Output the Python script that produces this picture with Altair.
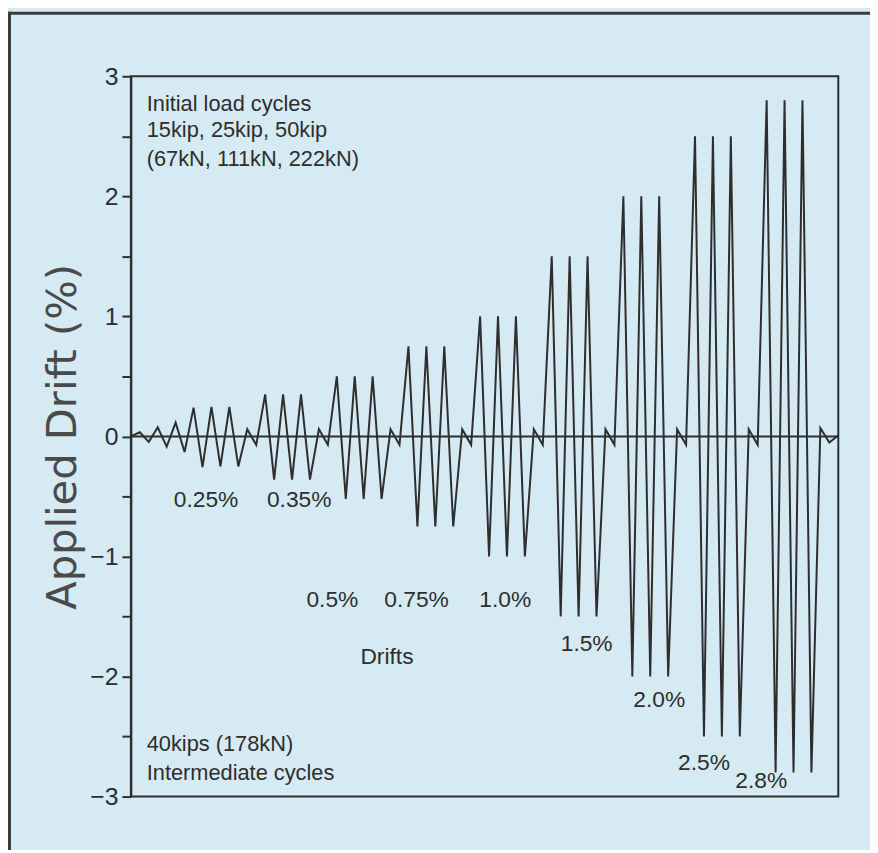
import altair as alt
import pandas as pd

# ---- data ----
step_index = list(range(80))
drift = [0, 0.035, -0.045, 0.075, -0.085, 0.115, -0.13,
         0.24, -0.255, 0.245, -0.25, 0.245, -0.25, 0.06, -0.07,
         0.35, -0.36, 0.35, -0.36, 0.35, -0.36, 0.06, -0.07,
         0.5, -0.52, 0.5, -0.52, 0.5, -0.52, 0.06, -0.07,
         0.75, -0.75, 0.75, -0.75, 0.75, -0.75, 0.06, -0.07,
         1.0, -1.0, 1.0, -1.0, 1.0, -1.0, 0.06, -0.07,
         1.5, -1.5, 1.5, -1.5, 1.5, -1.5, 0.06, -0.07,
         2.0, -2.0, 2.0, -2.0, 2.0, -2.0, 0.06, -0.07,
         2.5, -2.5, 2.5, -2.5, 2.5, -2.5, 0.06, -0.07,
         2.8, -2.8, 2.8, -2.8, 2.8, -2.8, 0.07, -0.05, 0.01]

drift_labels = ["0.25%", "0.35%", "0.5%", "0.75%", "1.0%", "1.5%", "2.0%", "2.5%", "2.8%", "Drifts"]
drift_label_x = [8.4, 18.8, 22.5, 31.9, 41.8, 50.9, 59.0, 64.0, 70.4, 28.6]
drift_label_y = [-0.534, -0.534, -1.36, -1.36, -1.36, -1.733, -2.195, -2.723, -2.871, -1.84]

note_lines = ["Initial load cycles", "15kip, 25kip, 50kip", "(67kN, 111kN, 222kN)",
              "40kips (178kN)", "Intermediate cycles"]
note_x = [1.77, 1.77, 1.77, 1.77, 1.77]
note_y = [2.767, 2.55, 2.31, -2.566, -2.805]

y_ticks = [-3, -2.5, -2, -1.5, -1, -0.5, 0, 0.5, 1, 1.5, 2, 2.5, 3]

INK = "#2e2e2e"
BG = "#d5eaf3"

df = pd.DataFrame({"k": step_index, "drift": drift})
lab = pd.DataFrame({"t": drift_labels, "x": drift_label_x, "y": drift_label_y})
notes = pd.DataFrame({"t": note_lines, "x": note_x, "y": note_y})
one = pd.DataFrame({"a": [0]})

xscale = alt.Scale(domain=[0, 79], nice=False, zero=False)
yscale = alt.Scale(domain=[-3, 3], nice=False)

line = alt.Chart(df).mark_line(color=INK, strokeWidth=2).encode(
    x=alt.X("k:Q", scale=xscale, axis=None),
    y=alt.Y("drift:Q", scale=yscale,
            axis=alt.Axis(values=y_ticks, title="Applied Drift (%)",
                          labelExpr="datum.value % 1 == 0 ? format(datum.value, 'd') : ''",
                          grid=False)),
)

zero = alt.Chart(one).mark_rule(color=INK, strokeWidth=2).encode(
    y=alt.Y("a:Q", scale=yscale)
)

drift_text = alt.Chart(lab).mark_text(
    font="Liberation Sans", fontSize=23, color=INK, align="center", baseline="middle"
).encode(
    x=alt.X("x:Q", scale=xscale), y=alt.Y("y:Q", scale=yscale), text="t:N"
)

note_text = alt.Chart(notes).mark_text(
    font="Liberation Sans", fontSize=22, color=INK, align="left", baseline="middle"
).encode(
    x=alt.X("x:Q", scale=xscale), y=alt.Y("y:Q", scale=yscale), text="t:N"
)

# decorative outer frame (top and left edges)
frame_top = alt.Chart(one).mark_rule(color="#3a3a3a", strokeWidth=3).encode(
    x=alt.value(-124), x2=alt.value(760), y=alt.value(-63.5)
)
frame_left = alt.Chart(one).mark_rule(color="#3a3a3a", strokeWidth=3).encode(
    x=alt.value(-122.5), y=alt.value(-65), y2=alt.value(790)
)

chart = alt.layer(frame_top, frame_left, zero, line, drift_text, note_text).properties(
    width=714, height=727,
    autosize=alt.AutoSizeParams(type="none"),
    padding={"left": 124, "top": 65, "right": 32, "bottom": 50},
    background=BG,
).configure_view(
    stroke=INK, strokeWidth=2
).configure_axis(
    domainColor=INK, domainWidth=2, tickColor=INK, tickWidth=2, tickSize=9,
    labelFont="Liberation Sans", labelFontSize=25, labelColor=INK, labelPadding=4,
    titleFont="DejaVu Sans", titleFontSize=42, titleFontWeight="normal",
    titleColor="#4a4a4a", titlePadding=5,
)

chart.save("out.html", embed_options={"renderer": "svg", "actions": False})
